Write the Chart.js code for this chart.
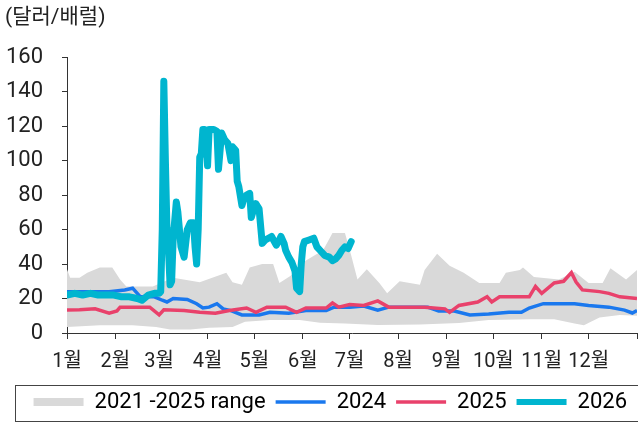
<!DOCTYPE html>
<html>
<head>
<meta charset="utf-8">
<script src="https://cdn.jsdelivr.net/npm/chart.js@4"></script>
<style>
  html, body { margin: 0; padding: 0; background: #fff; }
  #wrap { width: 638px; height: 423px; }
</style>
</head>
<body>
<div id="wrap"><canvas id="oilChart"></canvas></div>
<script>
// 월 시작일(연중 일수)과 라벨
const monthStarts = [0, 31, 59, 90, 120, 151, 181, 212, 243, 273, 304, 334, 365];
const monthLabels = ['1월', '2월', '3월', '4월', '5월', '6월', '7월', '8월', '9월', '10월', '11월', '12월', ''];

// 2021-2025 범위 (상단/하단)
const rangeUpperDays = [0, 2, 8, 13, 21, 29, 34, 38, 55, 60, 68, 85, 93, 102, 106, 112, 117, 125, 132, 136, 143, 153, 164, 170, 178, 182, 186, 192, 200, 205, 213, 226, 229, 237, 245, 254, 264, 277, 281, 290, 292, 299, 315, 325, 334, 343, 348, 358, 365];
const rangeUpper = [37, 32, 32, 35, 38, 38, 31, 27, 27, 29, 32, 29.5, 32, 35, 29.5, 28, 38, 40, 40, 29, 33, 42, 48, 58, 58, 45, 31, 37, 29, 23, 30, 28, 36.5, 46, 39, 35, 29, 29, 35, 36.5, 38, 32.5, 31, 35.5, 29, 29, 37.6, 31, 36.5];
const rangeLowerDays = [0, 21, 42, 57, 66, 79, 91, 106, 114, 130, 149, 162, 178, 199, 226, 251, 270, 296, 312, 325, 331, 341, 354, 365];
const rangeLower = [3.5, 4.5, 4.5, 3.5, 2, 2, 3, 3.5, 6.5, 7.5, 7.5, 6, 5.5, 4.6, 5, 5.8, 7.5, 8, 8, 5.5, 4.5, 9, 10.5, 10];

// 2024
const days2024 = [0, 15, 27, 37, 42, 47, 56, 61, 64, 68, 77, 83, 87, 91, 96, 100, 105, 112, 123, 130, 142, 153, 166, 171, 181, 190, 199, 206, 231, 238, 248, 258, 270, 283, 291, 296, 305, 325, 334, 347, 357, 362, 365];
const vals2024 = [24, 24, 24, 25, 26, 21, 21, 19, 18, 20, 19.5, 17, 14.5, 15, 17, 14, 13, 10.5, 10.5, 12, 11.5, 13, 13, 15, 15, 15.6, 13.3, 15, 15, 12.8, 12.8, 10.5, 11, 12, 12, 14.5, 17, 17, 16, 15, 13.3, 11.6, 13];

// 2025
const days2025 = [0, 8, 18, 27, 32, 34, 53, 59, 62, 75, 85, 95, 104, 115, 121, 128, 140, 147, 153, 166, 170, 174, 181, 190, 199, 206, 229, 242, 245, 251, 263, 269, 272, 277, 296, 300, 304, 312, 318, 323, 326, 330, 341, 347, 354, 365];
const vals2025 = [13.3, 13.5, 14, 11.5, 12.8, 15, 15, 10.5, 13.5, 13, 12, 11.5, 13, 14.5, 12, 15, 15, 12, 14.5, 14.5, 17.5, 15, 16.5, 16, 18.6, 15, 15, 14, 12, 16, 18, 21, 18, 21, 21, 27, 23, 29, 30, 35, 29.5, 25, 24, 23, 21, 20];

// 2026
const days2026 = [0, 5, 10, 15, 20, 25, 30, 35, 40, 45, 48, 52, 56, 59, 60, 61, 62, 63, 64, 65, 66, 67, 68, 70, 71, 73, 75, 77, 79, 81, 82, 83, 84, 85, 86, 87, 88, 89, 90, 91, 94, 96, 97, 99, 101, 103, 105, 106, 108, 109, 110, 112, 113, 115, 117, 118, 119, 121, 123, 125, 127, 129, 131, 134, 136, 137, 139, 140, 142, 144, 146, 147, 149, 150, 151, 152, 155, 158, 160, 162, 165, 168, 170, 172, 174, 176, 178, 180, 182];
const vals2026 = [22, 23, 22, 23, 22, 22, 22, 21, 21, 20, 19, 22, 23, 23, 24, 60, 146, 100, 61, 48, 28, 30, 55, 76, 70, 50, 44, 60, 64, 64, 50, 40, 60, 102, 104, 118, 118, 110, 97, 118, 118, 117, 95, 116, 112, 110, 100, 108, 106, 88, 85, 74, 77, 80, 81, 67, 70, 75, 72, 52, 54, 55, 56, 51, 54, 56, 52, 48, 44, 41, 36, 26, 24, 40, 50, 53, 54, 55, 50, 48, 45, 44, 42, 43, 45, 48, 50, 49, 53];

const legendNames = ['2021 -2025 range', '2024', '2025', '2026'];

function toPoints(days, vals) {
    return days.map((d, i) => ({ x: d, y: vals[i] }));
}

const gray = '#d9d9d9';
const blue = '#1a78ee';
const red = '#e9416b';
const cyan = '#00b5cf';

// 범례 테두리
const legendBorder = {
    id: 'legendBorder',
    afterDraw(chart) {
        const l = chart.legend;
        const ctx = chart.ctx;
        ctx.save();
        ctx.strokeStyle = '#444';
        ctx.lineWidth = 1;
        ctx.strokeRect(15.5, l.top + 4.5, chart.width - 15, 36);
        ctx.restore();
    }
};

const ctx = document.getElementById('oilChart').getContext('2d');
new Chart(ctx, {
    type: 'line',
    data: {
        datasets: [
            {
                label: '2026',
                data: toPoints(days2026, vals2026),
                borderColor: cyan,
                borderWidth: 7,
                borderJoinStyle: 'round',
                borderCapStyle: 'round',
                pointRadius: 0,
                order: 0
            },
            {
                label: '2025',
                data: toPoints(days2025, vals2025),
                borderColor: red,
                borderWidth: 3.5,
                pointRadius: 0,
                order: 1
            },
            {
                label: '2024',
                data: toPoints(days2024, vals2024),
                borderColor: blue,
                borderWidth: 3.5,
                pointRadius: 0,
                order: 2
            },
            {
                label: 'lower',
                data: toPoints(rangeLowerDays, rangeLower),
                borderWidth: 0,
                pointRadius: 0,
                fill: false,
                order: 3
            },
            {
                label: 'upper',
                data: toPoints(rangeUpperDays, rangeUpper),
                borderWidth: 0,
                pointRadius: 0,
                backgroundColor: gray,
                fill: '-1',
                order: 4
            }
        ]
    },
    options: {
        responsive: true,
        maintainAspectRatio: false,
        animation: false,
        layout: { padding: { left: 5, right: 1, top: 0, bottom: 0 } },
        plugins: {
            title: {
                display: true,
                text: '(달러/배럴)',
                align: 'start',
                color: '#222',
                font: { family: "Roboto, 'Noto Sans CJK KR'", size: 21, weight: 'normal' },
                padding: { top: 5, bottom: 27 }
            },
            legend: {
                position: 'bottom',
                align: 'end',
                labels: {
                    usePointStyle: true,
                    pointStyleWidth: 50,
                    boxHeight: 8,
                    padding: 10,
                    color: '#222',
                    font: { family: "Roboto, 'Noto Sans CJK KR'", size: 22 },
                    generateLabels: function () {
                        return [
                            { text: legendNames[0], fillStyle: gray, strokeStyle: gray, lineWidth: 0, pointStyle: 'rect', hidden: false },
                            { text: legendNames[1], fillStyle: blue, strokeStyle: blue, lineWidth: 3.5, pointStyle: 'line', hidden: false },
                            { text: legendNames[2], fillStyle: red, strokeStyle: red, lineWidth: 3.5, pointStyle: 'line', hidden: false },
                            { text: legendNames[3], fillStyle: cyan, strokeStyle: cyan, lineWidth: 6, pointStyle: 'line', hidden: false }
                        ];
                    }
                }
            },
            tooltip: { enabled: false }
        },
        scales: {
            x: {
                type: 'linear',
                min: 0,
                max: 365,
                afterBuildTicks: function (axis) {
                    axis.ticks = monthStarts.map(v => ({ value: v }));
                },
                afterFit: function (axis) {
                    axis.height = 48;
                    axis.paddingRight = 0;
                    axis.paddingLeft = 0;
                },
                ticks: {
                    autoSkip: false,
                    maxRotation: 0,
                    padding: 11,
                    color: '#222',
                    font: { family: "Roboto, 'Noto Sans CJK KR'", size: 20 },
                    callback: function (value, index) { return monthLabels[index]; }
                },
                grid: { drawOnChartArea: false, tickLength: 6, color: '#333' },
                border: { color: '#333' }
            },
            y: {
                min: 0,
                max: 160,
                afterFit: function (axis) { axis.width = 62; },
                ticks: {
                    stepSize: 20,
                    padding: 19,
                    color: '#222',
                    font: { family: "Roboto, 'Noto Sans CJK KR'", size: 22 }
                },
                grid: { drawOnChartArea: false, tickLength: 5, color: '#333' },
                border: { color: '#333' }
            }
        }
    },
    plugins: [legendBorder]
});
</script>
</body>
</html>
